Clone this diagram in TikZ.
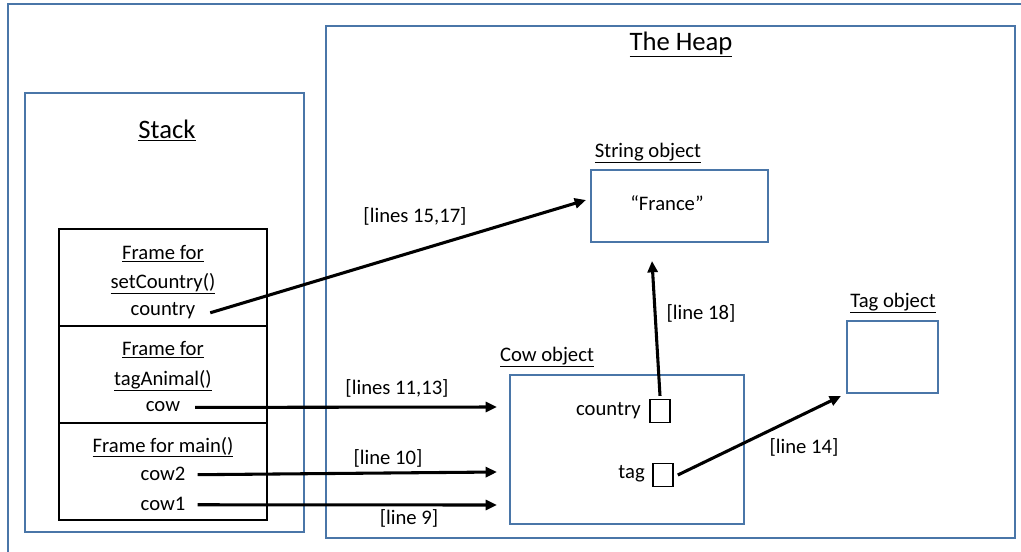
\documentclass[tikz,border=0pt]{standalone}
\usepackage{fontspec}
\setmainfont{Carlito}
\usetikzlibrary{arrows.meta}
\definecolor{boxblue}{HTML}{4A76A8}
\tikzset{
  bluebox/.style={draw=boxblue, line width=1.6pt/1.333},
  framebox/.style={draw=black, line width=1.6pt/1.333},
  slot/.style={draw=black, line width=1.2pt, minimum width=15pt, minimum height=17.5pt, inner sep=0pt},
  txt/.style={inner sep=0pt, anchor=base, font=\fontsize{15.5}{18}\selectfont},
  title/.style={inner sep=0pt, anchor=base, font=\fontsize{20}{24}\selectfont},
  ref/.style={line width=2.3pt, -{Triangle[length=8.5pt, width=7.5pt]}},
}
\begin{document}
\begin{tikzpicture}[x=0.75pt, y=-0.75pt]
\useasboundingbox (0,0) rectangle (1021,551);
\clip (0,0) rectangle (1021,551);
% outer frame
\draw[bluebox] (8,560) -- (8,4) -- (1030,4);
% heap and stack
\draw[bluebox] (326,26) rectangle (1015,538);
\draw[bluebox] (25,93) rectangle (304,532);
\node[title] (heapt) at (681,50) {\underline{The Heap}};
\node[title] (stackt) at (167,138) {\underline{Stack}};
% frames
\draw[framebox] (59,229) rectangle (267,520);
\draw[framebox] (59,326) -- (267,326);
\draw[framebox] (59,423) -- (267,423);
\node[txt] (f1a) at (163,259) {\underline{Frame for}};
\node[txt] (f1b) at (163,288) {\underline{setCountry()}};
\node[txt] (f1c) at (163,315) {country};
\node[txt] (f2a) at (163,355) {\underline{Frame for}};
\node[txt] (f2b) at (163,385) {\underline{tagAnimal()}};
\node[txt] (f2c) at (163,411) {cow};
\node[txt] (f3a) at (163,452) {\underline{Frame for main()}};
\node[txt] (f3b) at (163,480) {cow2};
\node[txt] (f3c) at (163,510) {cow1};
% string object
\node[txt] (strt) at (648,157) {\underline{String object}};
\draw[bluebox] (591,170) rectangle (768,242);
\node[txt] (france) at (667,210) {“France”};
\coordinate (strL) at (586,200);
\coordinate (strB) at (652,261);
% tag object
\node[txt] (tagt) at (893,307) {\underline{Tag object}};
\draw[bluebox] (847,321) rectangle (938,393);
\coordinate (tagL) at (841,396);
% cow object
\node[txt] (cowt) at (547,361) {\underline{Cow object}};
\draw[bluebox] (510,375) rectangle (744,524);
\node[txt, anchor=base east] (ccountry) at (641,415) {country};
\node[slot] (cslot) at (660,411) {};
\node[txt, anchor=base east] (ctag) at (645,478) {tag};
\node[slot] (tslot) at (663,475) {};
\coordinate (cowA) at (497,407);
\coordinate (cowB) at (497,472);
\coordinate (cowC) at (497,505);
% labels
\node[txt] (l1517) at (415,222) {[lines 15,17]};
\node[txt] (l18) at (701,319) {[line 18]};
\node[txt] (l1113) at (397,394) {[lines 11,13]};
\node[txt] (l10) at (388,464) {[line 10]};
\node[txt] (l9) at (409,524) {[line 9]};
\node[txt] (l14) at (804,453) {[line 14]};
% arrows
\draw[ref] ([xshift=11pt,yshift=-2pt]f1c.east) -- (strL);
\draw[ref] ([xshift=11pt,yshift=-1pt]f2c.east) -- (cowA);
\draw[ref] ([xshift=9pt,yshift=-1pt]f3b.east) -- (cowB);
\draw[ref] ([xshift=9pt,yshift=-1pt]f3c.east) -- (cowC);
\draw[ref] ([yshift=2pt]cslot.north) -- (strB);
\draw[ref] ([xshift=3pt]tslot.east) -- (tagL);
\end{tikzpicture}
\end{document}
